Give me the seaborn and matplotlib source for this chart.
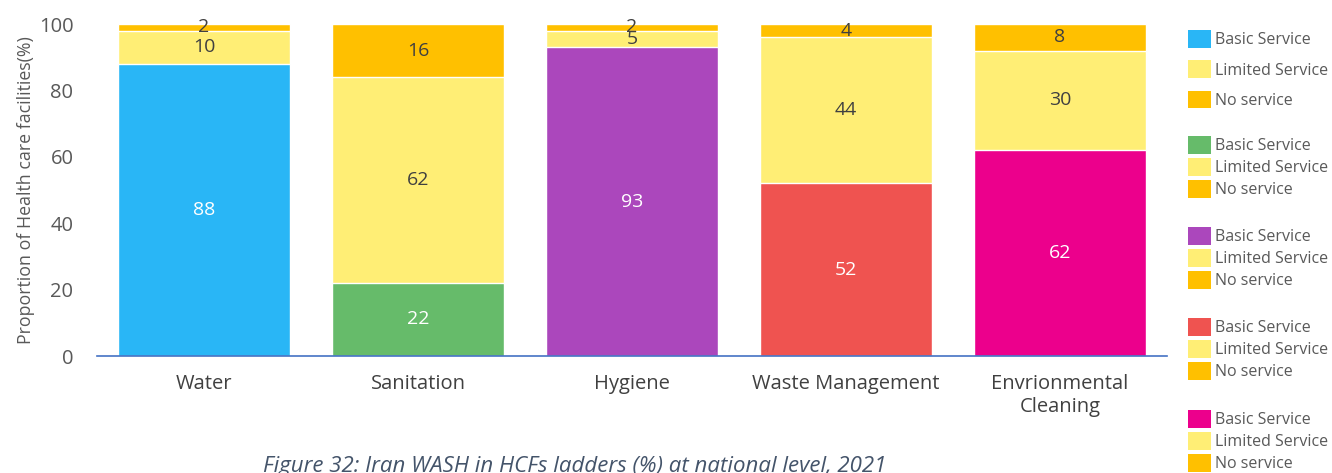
import matplotlib
matplotlib.use("Agg")
import matplotlib.pyplot as plt
from matplotlib.patches import Patch
import seaborn as sns
import pandas as pd
import numpy as np

categories = ["Water", "Sanitation", "Hygiene", "Waste Management", "Envrionmental\nCleaning"]
basic = [88, 22, 93, 52, 62]
limited = [10, 62, 5, 44, 30]
no_service = [2, 16, 2, 4, 8]
basic_colors = ["#29B6F6", "#66BB6A", "#AB47BC", "#EF5350", "#EC008C"]
limited_color = "#FFEE75"
no_color = "#FFC000"
legend_labels = ["Basic Service", "Limited Service", "No service"]
y_label = "Proportion of Health care facilities(%)"
caption = "Figure 32: Iran WASH in HCFs ladders (%) at national level, 2021"

sns.set_theme(style="white")
plt.rcParams["font.family"] = ["Open Sans", "DejaVu Sans"]

df = pd.DataFrame({"cat": categories, "basic": basic, "limited": limited, "no": no_service})
df["b_l"] = df["basic"] + df["limited"]
df["total"] = df["b_l"] + df["no"]

fig = plt.figure(figsize=(13.32, 4.73), dpi=100)
ax = fig.add_axes([97/1332, 1 - 356/473, (1167 - 97)/1332, (356 - 24)/473])

sns.barplot(data=df, x="cat", y="total", color=no_color, width=0.8, saturation=1, ax=ax, errorbar=None)
sns.barplot(data=df, x="cat", y="b_l", color=limited_color, width=0.8, saturation=1, ax=ax, errorbar=None)
sns.barplot(data=df, x="cat", y="basic", hue="cat", palette=basic_colors, width=0.8, saturation=1,
            ax=ax, errorbar=None, legend=False, dodge=False)

label_fs = 14
for i, row in df.iterrows():
    ax.text(i, row["basic"] / 2, f"{row['basic']}", ha="center", va="center", color="white", fontsize=label_fs)
    ax.text(i, row["basic"] + row["limited"] / 2, f"{row['limited']}", ha="center", va="center",
            color="#404040", fontsize=label_fs)
    ax.text(i, row["b_l"] + row["no"] / 2, f"{row['no']}", ha="center", va="center",
            color="#404040", fontsize=label_fs)

ax.set_xlim(-0.5, 4.5)
ax.set_ylim(0, 100)
ax.set_yticks([0, 20, 40, 60, 80, 100])
ax.tick_params(axis="y", labelsize=14.5, labelcolor="#595959", length=0, pad=17)
ax.tick_params(axis="x", which="major", length=0, labelsize=14.5, labelcolor="#404040", pad=13)
ax.set_xticks(np.arange(-0.5, 5, 1.0), minor=True)
ax.tick_params(axis="x", which="minor", length=6, color="#4472C4", width=1.2, direction="out")
ax.set_xlabel("")
ax.set_ylabel(y_label, fontsize=12.8, color="#595959", labelpad=3)
for s in ["top", "right", "left"]:
    ax.spines[s].set_visible(False)
ax.spines["bottom"].set_color("#4472C4")
ax.spines["bottom"].set_linewidth(1.2)
ax.grid(False)

# legends (one group per category)
group_tops = [30, 136, 227, 318, 410]
for k, col in enumerate(basic_colors):
    handles = [Patch(facecolor=col, edgecolor="none"),
               Patch(facecolor=limited_color, edgecolor="none"),
               Patch(facecolor=no_color, edgecolor="none")]
    fig.legend(handles, legend_labels, loc="upper left",
               bbox_to_anchor=(1188/1332, 1 - group_tops[k]/473),
               frameon=False, fontsize=11.5, handlelength=1.45, handleheight=1.35,
               handletextpad=0.25, labelspacing=0.22 if k > 0 else 0.75,
               borderaxespad=0, borderpad=0, labelcolor="#595959")

fig.text(575/1332, 1 - 456/473, caption, ha="center", va="top", fontsize=16,
         style="italic", color="#44546A")

fig.savefig("out.png", dpi=100)
